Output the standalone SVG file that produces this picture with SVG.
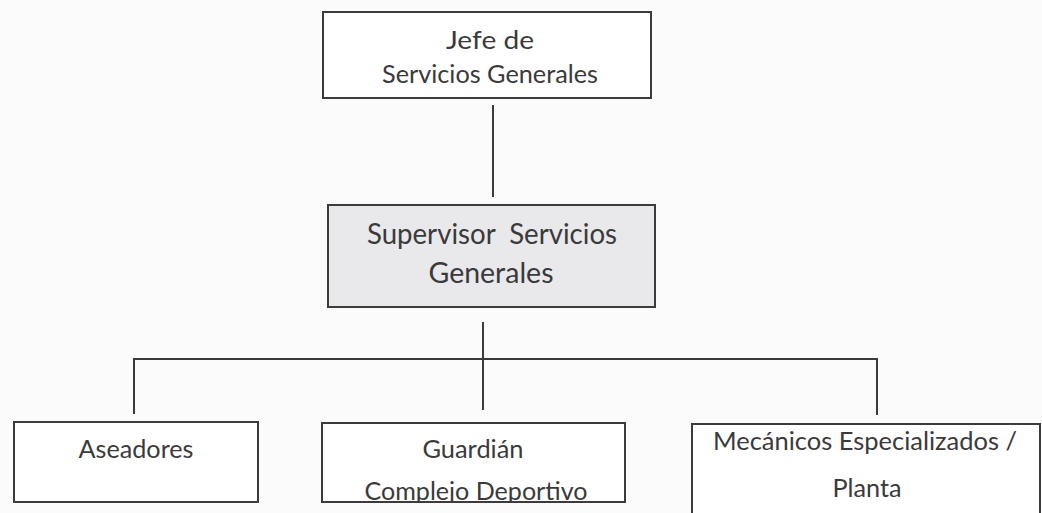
<svg xmlns="http://www.w3.org/2000/svg" width="1042" height="513" viewBox="0 0 1042 513">
  <defs>
    <style>
      .box { fill: #ffffff; stroke: #3d3a3e; stroke-width: 2; }
      .box.sup { fill: #e9e8ea; }
      .lbl { font-family: Lato, "Open Sans", "Liberation Sans", sans-serif; fill: #3a3a3a; text-anchor: middle; font-size: 25px; }
      .lbl.big { font-size: 28px; }
      .conn { stroke: #3d3a3e; stroke-width: 2; fill: none; }
    </style>
    <clipPath id="clipG">
      <rect x="322" y="423" width="303" height="78"/>
    </clipPath>
  </defs>
  <rect x="0" y="0" width="1042" height="513" fill="#fbfbfb"/>

  <g id="connectors">
    <line class="conn" x1="493" y1="105" x2="493" y2="197"/>
    <line class="conn" x1="483" y1="322" x2="483" y2="410"/>
    <polyline class="conn" points="134,414 134,359 877,359 877,415"/>
  </g>

  <g id="jefe">
    <rect class="box" x="323" y="12" width="328" height="86"/>
    <text class="lbl" x="490" y="49" textLength="88" lengthAdjust="spacingAndGlyphs">Jefe de</text>
    <text class="lbl" x="490" y="83" textLength="216" lengthAdjust="spacingAndGlyphs">Servicios Generales</text>
  </g>

  <g id="supervisor">
    <rect class="box sup" x="328" y="205" width="327" height="102"/>
    <text class="lbl big" x="492" y="244" textLength="250" lengthAdjust="spacingAndGlyphs" xml:space="preserve">Supervisor  Servicios</text>
    <text class="lbl big" x="491" y="283" textLength="125" lengthAdjust="spacingAndGlyphs">Generales</text>
  </g>

  <g id="aseadores">
    <rect class="box" x="14" y="422" width="244" height="80"/>
    <text class="lbl" x="136" y="458" textLength="115" lengthAdjust="spacingAndGlyphs">Aseadores</text>
  </g>

  <g id="guardian">
    <rect class="box" x="322" y="423" width="303" height="79"/>
    <text class="lbl" x="473" y="458" textLength="101" lengthAdjust="spacingAndGlyphs">Guardián</text>
    <text class="lbl" x="476" y="500" textLength="223" lengthAdjust="spacingAndGlyphs" clip-path="url(#clipG)">Complejo Deportivo</text>
  </g>

  <g id="mecanicos">
    <rect class="box" x="692" y="424" width="348" height="100"/>
    <text class="lbl" x="865" y="450" textLength="304" lengthAdjust="spacingAndGlyphs">Mecánicos Especializados /</text>
    <text class="lbl" x="867" y="497" textLength="69" lengthAdjust="spacingAndGlyphs">Planta</text>
  </g>
</svg>
